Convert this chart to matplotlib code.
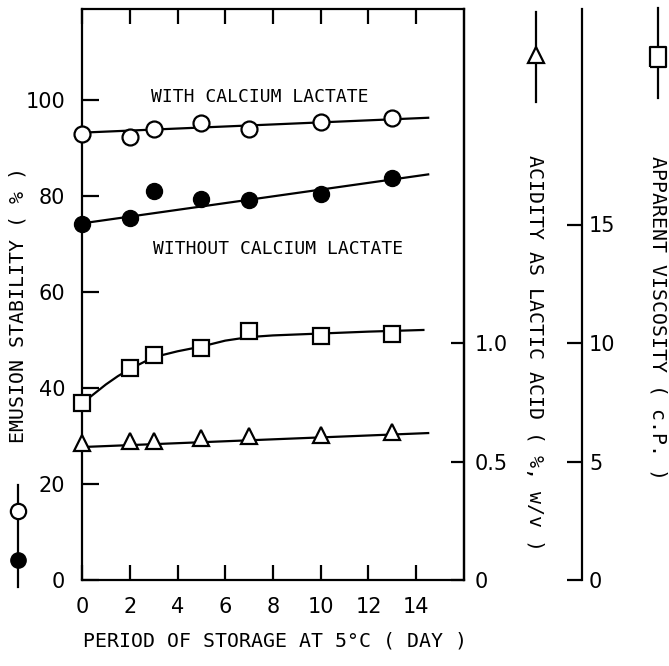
import matplotlib
matplotlib.use('Agg')
import matplotlib.pyplot as plt
from matplotlib.lines import Line2D
from matplotlib import font_manager

# ---- data ----
days = [0, 2, 3, 5, 7, 10, 13]
with_ca = [93.0, 92.3, 94.0, 95.3, 94.0, 95.4, 96.2]
without_ca = [74.2, 75.4, 81.0, 79.4, 79.2, 80.4, 83.7]
acidity = [0.58, 0.587, 0.587, 0.598, 0.607, 0.61, 0.624]
viscosity = [7.45, 8.95, 9.5, 9.8, 10.5, 10.3, 10.4]

fit_x = [0, 14.5]
with_fit = [93.2, 96.3]
without_fit = [74.3, 84.5]
acid_fit = [0.561, 0.62]
visc_curve_x = [0, 0.5, 1, 1.5, 2, 2.5, 3, 4, 5, 6, 7, 8, 10, 12, 14.3]
visc_curve_y = [7.45, 7.85, 8.25, 8.6, 8.9, 9.15, 9.4, 9.65, 9.85, 10.1, 10.25, 10.32, 10.4, 10.48, 10.55]

x_ticks = [0, 2, 4, 6, 8, 10, 12, 14]
stab_ticks = [0, 20, 40, 60, 80, 100]
acid_ticks = [0, 0.5, 1.0]
acid_labels = ['0', '0.5', '1.0']
visc_ticks = [0, 5, 10, 15]

# ---- fonts ----
names = {f.name for f in font_manager.fontManager.ttflist}
if 'Liberation Sans Narrow' in names:
    tick_font, tick_size = 'Liberation Sans Narrow', 18
else:
    tick_font, tick_size = 'DejaVu Sans', 15
lab_font = 'DejaVu Sans Mono'
lab_size = 14.3

W, H = 669, 666
fig = plt.figure(figsize=(W / 100, H / 100), dpi=100)

def fx(px):
    return px / W

def fy(py):
    return 1 - py / H

L, R, T, B = 82, 464, 9, 580
ax = fig.add_axes([fx(L), fy(B), (R - L) / W, (B - T) / H])
ax.set_xlim(0, 16)
ax.set_ylim(0, (B - T) / 4.8)
lw = 1.6
for s in ax.spines.values():
    s.set_linewidth(lw)
ax.set_xticks(x_ticks)
ax.set_xticklabels([str(t) for t in x_ticks], family=tick_font, fontsize=tick_size)
ax.set_yticks(stab_ticks)
ax.set_yticklabels([str(t) for t in stab_ticks], family=tick_font, fontsize=tick_size)
ax.tick_params(axis='x', direction='in', top=True, bottom=True, length=11, width=lw, pad=12)
ax.tick_params(axis='y', direction='in', left=True, right=False, length=12, width=lw, pad=12)

# acidity axis (right spine of box)
ax2 = ax.twinx()
ax2.set_ylim(0, (B - T) / 237.0)
for k in ['left', 'top', 'bottom']:
    ax2.spines[k].set_visible(False)
ax2.spines['right'].set_linewidth(lw)
ax2.set_yticks(acid_ticks)
ax2.set_yticklabels(acid_labels, family=tick_font, fontsize=tick_size)
ax2.tick_params(axis='y', direction='in', length=9.5, width=lw, pad=8)

# viscosity axis (offset spine)
ax3 = ax.twinx()
ax3.patch.set_visible(False)
ax3.set_ylim(0, (B - T) / 23.7)
for k in ['left', 'top', 'bottom']:
    ax3.spines[k].set_visible(False)
ax3.spines['right'].set_position(('axes', (582 - L) / (R - L)))
ax3.spines['right'].set_linewidth(lw)
ax3.set_yticks(visc_ticks)
ax3.set_yticklabels([str(t) for t in visc_ticks], family=tick_font, fontsize=tick_size)
ax3.tick_params(axis='y', direction='in', length=11, width=lw, pad=5)

ms = 11.5
# emulsion stability
ax.plot(fit_x, with_fit, color='black', lw=lw, zorder=2)
ax.plot(days, with_ca, 'o', ms=ms, mfc='white', mec='black', mew=1.6, zorder=3, clip_on=False)
ax.plot(fit_x, without_fit, color='black', lw=lw, zorder=2)
ax.plot(days, without_ca, 'o', ms=ms, mfc='black', mec='black', zorder=3, clip_on=False)

# acidity
ax2.plot(fit_x, acid_fit, color='black', lw=lw, zorder=2)
ax2.plot(days, acidity, '^', ms=12, mfc='white', mec='black', mew=1.6, zorder=3, clip_on=False)

# viscosity
ax3.plot(visc_curve_x, visc_curve_y, color='black', lw=lw, zorder=2)
ax3.plot(days, viscosity, 's', ms=11, mfc='white', mec='black', mew=1.6, zorder=3, clip_on=False)

# annotations
ax.text(7.46, 100.6, 'WITH CALCIUM LACTATE', ha='center', va='center',
        family=lab_font, fontsize=13)
ax.text(8.2, 69.0, 'WITHOUT CALCIUM LACTATE', ha='center', va='center',
        family=lab_font, fontsize=13)

# axis labels
fig.text(fx(18), fy(305), 'EMUSION STABILITY ( % )', rotation=90, ha='center', va='center',
         family=lab_font, fontsize=lab_size)
fig.text(fx(534), fy(353), 'ACIDITY AS LACTIC ACID ( %, w/v )', rotation=-90, ha='center',
         va='center', family=lab_font, fontsize=lab_size)
fig.text(fx(658), fy(318), 'APPARENT VISCOSITY ( c.P. )', rotation=-90, ha='center',
         va='center', family=lab_font, fontsize=lab_size)
fig.text(fx(275), fy(641), 'PERIOD OF STORAGE AT 5°C ( DAY )', ha='center', va='center',
         family=lab_font, fontsize=lab_size)

# key symbols
def key_line(x, y1, y2):
    fig.add_artist(Line2D([fx(x), fx(x)], [fy(y1), fy(y2)], transform=fig.transFigure,
                          color='black', lw=lw))

def key_marker(x, y, **kw):
    fig.add_artist(Line2D([fx(x)], [fy(y)], transform=fig.transFigure, ls='none', **kw))

key_line(18, 485, 587)
key_marker(18, 511, marker='o', ms=11, mfc='white', mec='black', mew=1.6)
key_marker(18, 560, marker='o', ms=11, mfc='black', mec='black')
key_line(536, 12, 102)
key_marker(536, 55, marker='^', ms=12, mfc='white', mec='black', mew=1.6)
key_line(658, 8, 98)
rect = [(-0.75, -1), (0.75, -1), (0.75, 1), (-0.75, 1), (-0.75, -1)]
key_marker(658, 57, marker=rect, ms=14.5, mfc='white', mec='black', mew=1.6)

fig.savefig('out.png', dpi=100)
